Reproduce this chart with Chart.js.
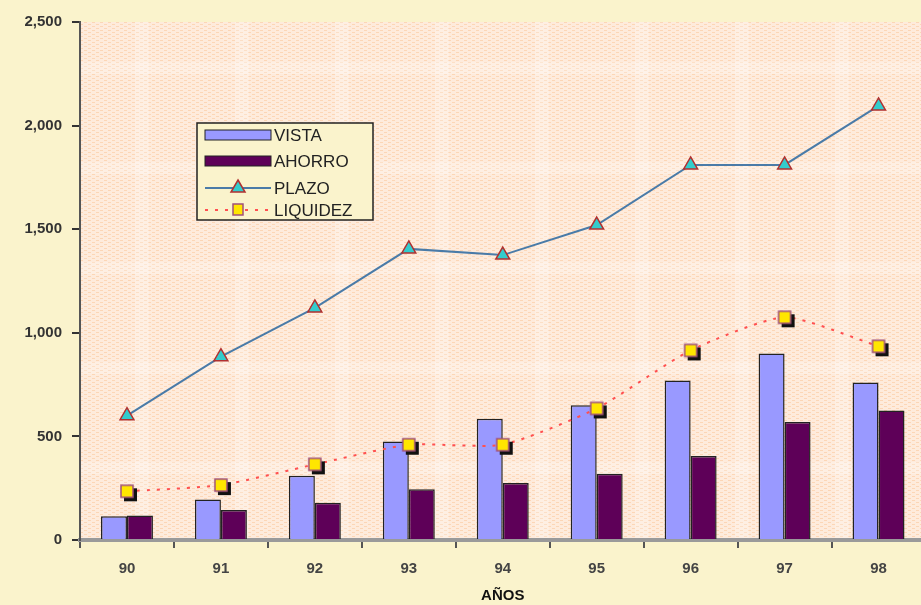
<!DOCTYPE html>
<html>
<head>
<meta charset="utf-8">
<script src="https://cdn.jsdelivr.net/npm/chart.js@4.4.0/dist/chart.umd.min.js"></script>
<style>
  html, body { margin: 0; padding: 0; overflow: hidden; background: #FAF3CC; }
  #wrap { position: absolute; left: 0; top: 0; }
</style>
</head>
<body>
<div id="wrap"><canvas id="myChart" width="935" height="605"></canvas></div>
<script>
// data
const years = ['90', '91', '92', '93', '94', '95', '96', '97', '98'];
const vista = [115, 195, 310, 475, 585, 650, 770, 900, 760];
const ahorro = [118, 145, 180, 245, 275, 320, 405, 570, 625];
const plazo = [600, 885, 1120, 1405, 1375, 1520, 1810, 1810, 2095];
const liquidez = [235, 265, 365, 460, 460, 635, 915, 1075, 935];
const yTicks = [0, 500, 1000, 1500, 2000, 2500];

// yellow square marker with a black drop shadow
function squareMarker(){
    const c = document.createElement('canvas');
    c.width = 26; c.height = 26;
    const g = c.getContext('2d');
    g.fillStyle = '#111';
    g.fillRect(10, 10, 13, 13);
    g.fillStyle = '#FFE600';
    g.strokeStyle = '#A0507A';
    g.lineWidth = 1.5;
    g.fillRect(7, 7, 12, 12);
    g.strokeRect(7, 7, 12, 12);
    return c;
}

// peach texture for the plot area
function plotPattern(ctx){
    const c = document.createElement('canvas');
    c.width = 8; c.height = 8;
    const g = c.getContext('2d');
    g.fillStyle = '#FEEBDC';
    g.fillRect(0, 0, 8, 8);
    g.fillStyle = '#FCD6B6';
    g.fillRect(0, 0, 3, 1);
    g.fillRect(4, 2, 3, 1);
    g.fillRect(0, 4, 3, 1);
    g.fillRect(4, 6, 3, 1);
    return ctx.createPattern(c, 'repeat');
}

const background = {
    id: 'background',
    beforeDraw(chart){
        const ctx = chart.ctx;
        const a = chart.chartArea;
        ctx.save();
        ctx.fillStyle = '#FAF3CC';
        ctx.fillRect(0, 0, chart.width, chart.height);
        ctx.fillStyle = plotPattern(ctx);
        ctx.fillRect(a.left, a.top, a.right - a.left, a.bottom - a.top);
        // lighter bands
        ctx.fillStyle = 'rgba(255,255,255,0.22)';
        for (let x = a.left + 55; x < a.right; x += 100) ctx.fillRect(x, a.top, 14, a.bottom - a.top);
        for (let y = a.top + 40; y < a.bottom; y += 100) ctx.fillRect(a.left, y, a.right - a.left, 12);
        ctx.restore();
    }
};

const legendBox = {
    id: 'legendBox',
    afterDraw(chart){
        const ctx = chart.ctx;
        const x = 197, y = 123, w = 176, h = 97;
        ctx.save();
        ctx.fillStyle = '#FAF3CC';
        ctx.fillRect(x, y, w, h);
        ctx.strokeStyle = '#222';
        ctx.lineWidth = 1.5;
        ctx.strokeRect(x, y, w, h);
        const rows = [135, 161, 188, 210];
        const sx = 205, ex = 271;
        // VISTA
        ctx.fillStyle = '#9999FF';
        ctx.fillRect(sx, rows[0] - 5, ex - sx, 10);
        ctx.strokeStyle = '#222'; ctx.lineWidth = 1;
        ctx.strokeRect(sx, rows[0] - 5, ex - sx, 10);
        // AHORRO
        ctx.fillStyle = '#5E0058';
        ctx.fillRect(sx, rows[1] - 5, ex - sx, 10);
        ctx.strokeRect(sx, rows[1] - 5, ex - sx, 10);
        // PLAZO
        ctx.strokeStyle = '#4A7BA8'; ctx.lineWidth = 2;
        ctx.beginPath(); ctx.moveTo(sx, rows[2]); ctx.lineTo(ex, rows[2]); ctx.stroke();
        const cx = (sx + ex) / 2;
        ctx.fillStyle = '#33CCCC'; ctx.strokeStyle = '#B03030'; ctx.lineWidth = 1.5;
        ctx.beginPath();
        ctx.moveTo(cx, rows[2] - 8); ctx.lineTo(cx + 7, rows[2] + 4); ctx.lineTo(cx - 7, rows[2] + 4);
        ctx.closePath(); ctx.fill(); ctx.stroke();
        // LIQUIDEZ
        ctx.strokeStyle = '#FF5050'; ctx.lineWidth = 2; ctx.setLineDash([3, 7]);
        ctx.beginPath(); ctx.moveTo(sx, rows[3]); ctx.lineTo(ex, rows[3]); ctx.stroke();
        ctx.setLineDash([]);
        ctx.fillStyle = '#FFE600'; ctx.strokeStyle = '#A0507A'; ctx.lineWidth = 1.5;
        ctx.fillRect(cx - 5, rows[3] - 6, 10, 11);
        ctx.strokeRect(cx - 5, rows[3] - 6, 10, 11);
        // labels
        ctx.fillStyle = '#222';
        ctx.font = '17px "Liberation Sans", Arial, sans-serif';
        ctx.textBaseline = 'middle';
        ['VISTA', 'AHORRO', 'PLAZO', 'LIQUIDEZ'].forEach((t, i) => ctx.fillText(t, 274, rows[i] + 1));
        ctx.restore();
    }
};

const ctx = document.getElementById('myChart');

new Chart(ctx, {
    data: {
        labels: years,
        datasets: [{
            type: 'line',
            label: 'PLAZO',
            data: plazo,
            borderColor: '#4A7BA8',
            borderWidth: 2,
            tension: 0,
            pointStyle: 'triangle',
            pointRadius: 8,
            pointBackgroundColor: '#33CCCC',
            pointBorderColor: '#B03030',
            pointBorderWidth: 1.5,
            order: 1
        }, {
            type: 'line',
            label: 'LIQUIDEZ',
            data: liquidez,
            borderColor: '#FF5050',
            borderWidth: 2,
            borderDash: [3, 7],
            tension: 0.2,
            pointStyle: squareMarker(),
            order: 1
        }, {
            type: 'bar',
            label: 'VISTA',
            data: vista,
            backgroundColor: '#9999FF',
            borderColor: '#222',
            borderWidth: 1.5,
            categoryPercentage: 0.553,
            barPercentage: 1,
            order: 2
        }, {
            type: 'bar',
            label: 'AHORRO',
            data: ahorro,
            backgroundColor: '#5E0058',
            borderColor: '#222',
            borderWidth: 1.5,
            categoryPercentage: 0.553,
            barPercentage: 1,
            order: 2
        }]
    },
    options: {
        responsive: false,
        animation: false,
        layout: { padding: { top: 22, right: 8, left: 0, bottom: 0 } },
        plugins: {
            legend: { display: false },
            tooltip: { enabled: false }
        },
        scales: {
            x: {
                afterFit: (s) => { s.height = 65; },
                grid: {
                    drawOnChartArea: false,
                    tickLength: 8,
                    tickColor: '#555',
                    lineWidth: 2
                },
                border: { color: '#9A9A9A', width: 4 },
                ticks: {
                    padding: 12,
                    color: '#444',
                    font: { family: '"Liberation Sans", Arial, sans-serif', size: 15, weight: 'bold' }
                },
                title: {
                    display: true,
                    text: 'AÑOS',
                    color: '#111',
                    padding: { top: 2, bottom: 0 },
                    font: { family: '"Liberation Sans", Arial, sans-serif', size: 15, weight: 'bold' }
                }
            },
            y: {
                min: 0,
                max: 2500,
                afterFit: (s) => { s.width = 80; },
                afterBuildTicks: (s) => { s.ticks = yTicks.map(v => ({ value: v })); },
                grid: {
                    drawOnChartArea: false,
                    tickLength: 8,
                    tickColor: '#333',
                    lineWidth: 2
                },
                border: { color: '#555', width: 2 },
                ticks: {
                    padding: 10,
                    color: '#333',
                    font: { family: '"Liberation Sans", Arial, sans-serif', size: 15, weight: 'bold' },
                    callback: (v) => v.toLocaleString('en-US')
                }
            }
        }
    },
    plugins: [background, legendBox]
});
</script>
</body>
</html>
